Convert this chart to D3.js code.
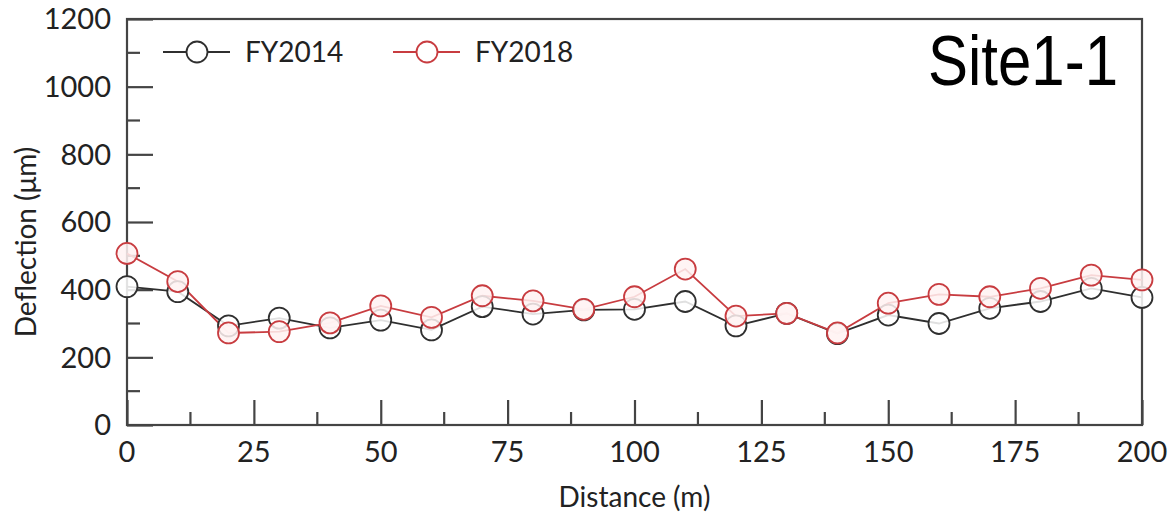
<!DOCTYPE html>
<html><head><meta charset="utf-8">
<script src="https://cdn.jsdelivr.net/npm/d3@7"></script>
<style>body{margin:0;background:#fff}svg{display:block}</style>
</head><body>
<svg id="c" width="1173" height="519"></svg>
<script>
const distances = [0,10,20,30,40,50,60,70,80,90,100,110,120,130,140,150,160,170,180,190,200];
const fy2014 = [409,394,293,316,287,310,281,350,328,340,342,365,293,330,270,325,300,345,365,404,377];
const fy2018 = [507,424,272,276,302,352,318,382,367,342,379,461,322,330,272,360,386,379,404,443,429];
const xTicks = [0,25,50,75,100,125,150,175,200];
const yTicks = [0,200,400,600,800,1000,1200];
const seriesNames = ["FY2014","FY2018"];

const svg = d3.select("#c");
const m = {l:127, r:1142, t:19, b:425};
const x = d3.scaleLinear().domain([0,200]).range([m.l,m.r]);
const y = d3.scaleLinear().domain([0,1200]).range([m.b,m.t]);
const axisColor = "#444";
const font = "Lato, 'Open Sans', sans-serif";

// frame
svg.append("rect").attr("x",m.l).attr("y",m.t).attr("width",m.r-m.l).attr("height",m.b-m.t)
  .attr("fill","none").attr("stroke",axisColor).attr("stroke-width",2.2);

// y axis
const ya = svg.append("g").attr("transform",`translate(${m.l},0)`)
  .call(d3.axisRight(y).tickValues(yTicks).tickSize(26).tickFormat(""));
ya.select(".domain").remove();
ya.selectAll("line").attr("stroke",axisColor).attr("stroke-width",2.2);
const yMinor = d3.range(100,1200,200);
svg.append("g").selectAll("line").data(yMinor).join("line")
  .attr("x1",m.l).attr("x2",m.l+13).attr("y1",d=>y(d)).attr("y2",d=>y(d))
  .attr("stroke",axisColor).attr("stroke-width",2.2);
svg.append("g").selectAll("text").data(yTicks).join("text")
  .attr("x",m.l-16).attr("y",d=>y(d)).attr("dy","0.36em").attr("text-anchor","end")
  .attr("font-family",font).attr("font-size",29).attr("fill","#222").text(d=>d);

// x axis
const xa = svg.append("g").attr("transform",`translate(0,${m.b})`)
  .call(d3.axisTop(x).tickValues(xTicks).tickSize(25).tickFormat(""));
xa.select(".domain").remove();
xa.selectAll("line").attr("stroke",axisColor).attr("stroke-width",2.2);
const xMinor = d3.range(12.5,200,25);
svg.append("g").selectAll("line").data(xMinor).join("line")
  .attr("x1",d=>x(d)).attr("x2",d=>x(d)).attr("y1",m.b).attr("y2",m.b-13)
  .attr("stroke",axisColor).attr("stroke-width",2.2);
svg.append("g").selectAll("text").data(xTicks).join("text")
  .attr("x",d=>x(d)).attr("y",462).attr("text-anchor","middle")
  .attr("font-family",font).attr("font-size",29).attr("fill","#222").text(d=>d);

// axis titles
svg.append("text").attr("x",(m.l+m.r)/2).attr("y",507).attr("text-anchor","middle")
  .attr("font-family",font).attr("font-size",28).attr("fill","#222").text("Distance (m)");
svg.append("text").attr("transform","translate(36,242) rotate(-90)").attr("text-anchor","middle")
  .attr("font-family",font).attr("font-size",28).attr("fill","#222").text("Deflection (μm)");

// series
const series = [
  {name:seriesNames[0], vals:fy2014, stroke:"#2f2f2f", fill:"#ffffff"},
  {name:seriesNames[1], vals:fy2018, stroke:"#c83c40", fill:"#fff2f2"}
];
const line = d3.line().x((d,i)=>x(distances[i])).y(d=>y(d));
series.forEach(s=>{
  svg.append("path").datum(s.vals).attr("d",line).attr("fill","none")
    .attr("stroke",s.stroke).attr("stroke-width",1.8);
});
series.forEach(s=>{
  svg.append("g").selectAll("circle").data(s.vals).join("circle")
    .attr("cx",(d,i)=>x(distances[i])).attr("cy",d=>y(d)).attr("r",10.5)
    .attr("fill",s.fill).attr("fill-opacity",0.85).attr("stroke",s.stroke).attr("stroke-width",1.8);
});

// legend
const legX = [163,393];
series.forEach((s,i)=>{
  const g = svg.append("g");
  g.append("line").attr("x1",legX[i]).attr("x2",legX[i]+67).attr("y1",52).attr("y2",52)
    .attr("stroke",s.stroke).attr("stroke-width",1.8);
  g.append("circle").attr("cx",legX[i]+34).attr("cy",52).attr("r",10.5)
    .attr("fill","#fff").attr("stroke",s.stroke).attr("stroke-width",1.8);
  g.append("text").attr("x",legX[i]+82).attr("y",62).attr("font-family",font)
    .attr("font-size",28).attr("fill","#222").text(s.name);
});

svg.append("text").attr("x",1118).attr("y",85).attr("text-anchor","end")
  .attr("font-family","'Liberation Sans', Arial, sans-serif").attr("font-size",70)
  .attr("textLength",190).attr("lengthAdjust","spacingAndGlyphs")
  .attr("fill","#000").text("Site1-1");
</script>
</body></html>
